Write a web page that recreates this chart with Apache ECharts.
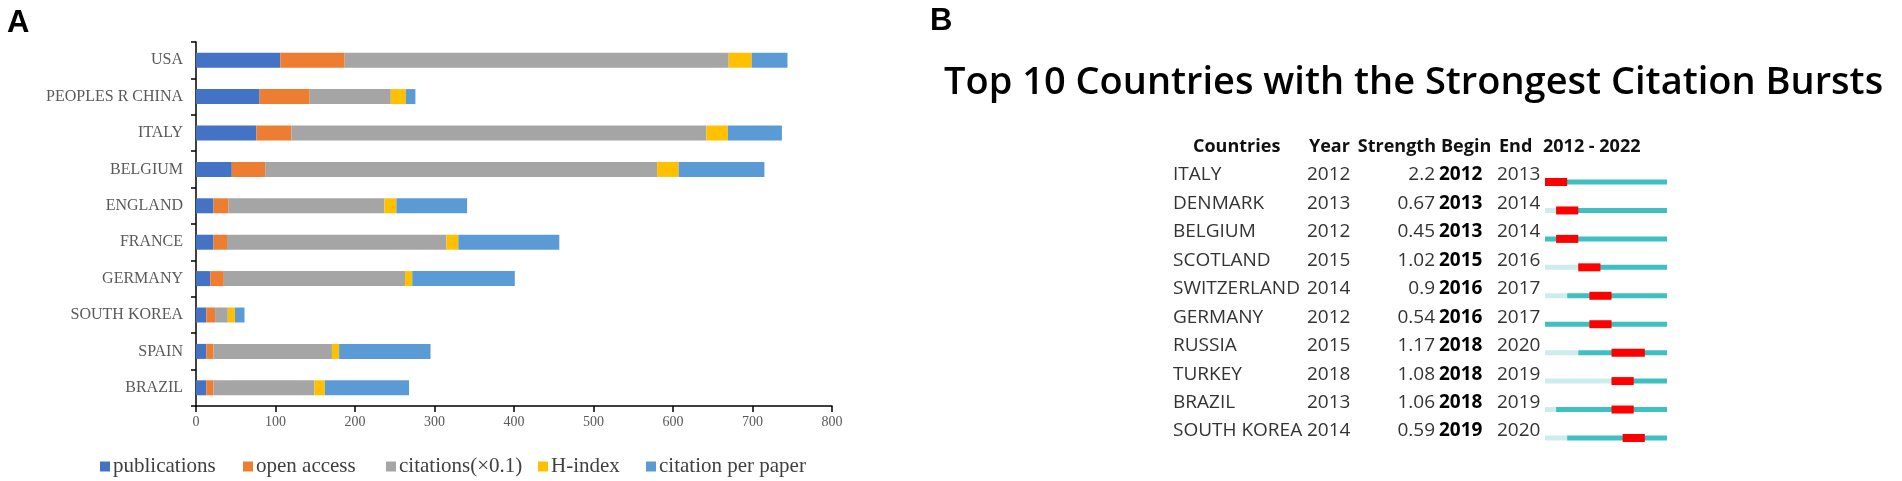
<!DOCTYPE html>
<html>
<head>
<meta charset="utf-8">
<script src="https://cdn.jsdelivr.net/npm/echarts@6/dist/echarts.min.js"></script>
<style>
  html, body { margin: 0; padding: 0; background: #fff; }
  #chart { width: 1902px; height: 481px; }
</style>
</head>
<body>
<div id="chart"></div>
<script>
// panel A: stacked bars
const countries = ['USA', 'PEOPLES R CHINA', 'ITALY', 'BELGIUM', 'ENGLAND', 'FRANCE', 'GERMANY', 'SOUTH KOREA', 'SPAIN', 'BRAZIL'];
const publications = [106, 80, 76, 45, 22, 22, 18, 13, 13, 13];
const openAccess = [81, 63, 44, 42, 19, 17, 17, 11, 9, 9];
const citations = [483, 102, 522, 493, 196, 276, 228, 16, 149, 127];
const hIndex = [29, 19, 27, 27, 15, 15, 9, 9, 9, 13];
const citationPerPaper = [45, 12, 68, 108, 89, 127, 129, 12, 115, 106];
const seriesNames = ['publications', 'open access', 'citations(×0.1)', 'H-index', 'citation per paper'];
const xTicks = [0, 100, 200, 300, 400, 500, 600, 700, 800];

// panel B: citation bursts
const burstCountries = ['ITALY', 'DENMARK', 'BELGIUM', 'SCOTLAND', 'SWITZERLAND', 'GERMANY', 'RUSSIA', 'TURKEY', 'BRAZIL', 'SOUTH KOREA'];
const burstYear = [2012, 2013, 2012, 2015, 2014, 2012, 2015, 2018, 2013, 2014];
const burstStrength = ['2.2', '0.67', '0.45', '1.02', '0.9', '0.54', '1.17', '1.08', '1.06', '0.59'];
const burstBegin = [2012, 2013, 2013, 2015, 2016, 2016, 2018, 2018, 2018, 2019];
const burstEnd = [2013, 2014, 2014, 2016, 2017, 2017, 2020, 2019, 2019, 2020];
const spanStart = 2012;
const spanEnd = 2022;

const serif = '"Liberation Serif", "Times New Roman", serif';
const sans = '"Open Sans", "Noto Sans", sans-serif';
const colors = ['#4472C4', '#ED7D31', '#A5A5A5', '#FFC000', '#5B9BD5'];

const myChart = echarts.init(document.getElementById('chart'));

function barSeries(name, data) {
  return {
    name: name,
    type: 'bar',
    stack: 'total',
    barWidth: 15,
    data: data,
    xAxisIndex: 0,
    yAxisIndex: 0
  };
}

function renderBurst(params, api) {
  const i = params.dataIndex;
  const start = api.coord([spanStart, i]);
  const yc = start[1];
  const x0 = start[0];
  const xYear = api.coord([burstYear[i], i])[0];
  const xB = api.coord([burstBegin[i], i])[0];
  const xE = api.coord([burstEnd[i] + 1, i])[0];
  const xEnd = api.coord([spanEnd + 1, i])[0];
  const yb = yc + 7;
  const font = '19px ' + sans;
  const fontB = 'bold 19px ' + sans;
  const children = [];
  if (xYear > x0) {
    children.push({type: 'rect', shape: {x: x0, y: yb - 2.5, width: xYear - x0, height: 5}, style: {fill: '#CDEDED'}});
  }
  children.push({type: 'rect', shape: {x: xYear, y: yb - 2.5, width: xEnd - xYear, height: 5}, style: {fill: '#3FBFBF'}});
  children.push({type: 'rect', shape: {x: xB, y: yb - 4, width: xE - xB, height: 8}, style: {fill: '#FF0000'}});
  const txt = (text, x, align, f, fill) => ({
    type: 'text',
    style: {text: text, x: x, y: yc, align: align, verticalAlign: 'middle', font: f, fill: fill}
  });
  children.push(txt(burstCountries[i], x0 - 372, 'left', font, '#333'));
  children.push(txt(String(burstYear[i]), x0 - 238, 'left', font, '#333'));
  children.push(txt(burstStrength[i], x0 - 110, 'right', font, '#333'));
  children.push(txt(String(burstBegin[i]), x0 - 106, 'left', fontB, '#000'));
  children.push(txt(String(burstEnd[i]), x0 - 48, 'left', font, '#333'));
  return {type: 'group', children: children};
}

const headerFont = 'bold 18px ' + sans;
const headers = [
  {text: 'Countries', x: 1193, align: 'left'},
  {text: 'Year', x: 1309, align: 'left'},
  {text: 'Strength', x: 1436, align: 'right'},
  {text: 'Begin', x: 1441, align: 'left'},
  {text: 'End', x: 1499, align: 'left'},
  {text: spanStart + ' - ' + spanEnd, x: 1543, align: 'left'}
];

// one legend per item so each sits where the original puts it
const legendLeft = [95, 238, 381, 533, 641];
const legends = seriesNames.map((name, k) => ({
  left: legendLeft[k],
  top: 451,
  itemWidth: 10,
  itemHeight: 10,
  icon: 'rect',
  textStyle: {fontFamily: serif, fontSize: 21, color: '#404040', padding: [0, 0, 0, -2]},
  data: [name]
}));

const option = {
  backgroundColor: '#fff',
  animation: false,
  color: colors,
  legend: legends,
  grid: [
    {left: 196, right: 1070, top: 42, bottom: 75},
    {left: 1545, right: 235, top: 160.8, height: 284.4}
  ],
  xAxis: [
    {
      type: 'value',
      gridIndex: 0,
      min: xTicks[0],
      max: xTicks[xTicks.length - 1],
      interval: 100,
      splitLine: {show: false},
      axisLine: {show: true, lineStyle: {color: '#000', width: 1.5}},
      axisTick: {show: true, length: 6, lineStyle: {color: '#000', width: 1.5}},
      axisLabel: {fontFamily: serif, fontSize: 14, color: '#595959', margin: 9}
    },
    {type: 'value', gridIndex: 1, min: spanStart, max: spanEnd + 1, show: false}
  ],
  yAxis: [
    {
      type: 'category',
      gridIndex: 0,
      inverse: true,
      data: countries,
      axisLine: {show: true, lineStyle: {color: '#000', width: 1.5}},
      axisTick: {show: true, length: 5, lineStyle: {color: '#000', width: 1.5}},
      axisLabel: {fontFamily: serif, fontSize: 16, color: '#595959', margin: 13}
    },
    {type: 'category', gridIndex: 1, inverse: true, data: burstCountries, show: false}
  ],
  series: [
    barSeries(seriesNames[0], publications),
    barSeries(seriesNames[1], openAccess),
    barSeries(seriesNames[2], citations),
    barSeries(seriesNames[3], hIndex),
    barSeries(seriesNames[4], citationPerPaper),
    {
      type: 'custom',
      xAxisIndex: 1,
      yAxisIndex: 1,
      clip: false,
      renderItem: renderBurst,
      encode: {x: 0, y: 1},
      data: burstCountries.map((c, i) => [burstBegin[i], i])
    }
  ],
  graphic: [
    {type: 'text', left: 7, top: 8, style: {text: 'A', font: 'bold 31px "Liberation Sans", Arial, sans-serif', fill: '#000'}},
    {type: 'text', left: 930, top: 6, style: {text: 'B', font: 'bold 31px "Liberation Sans", Arial, sans-serif', fill: '#000'}},
    {type: 'text', x: 944, y: 83, style: {text: 'Top 10 Countries with the Strongest Citation Bursts', font: '600 38px ' + sans, fill: '#000', verticalAlign: 'middle'}}
  ].concat(headers.map(h => ({
    type: 'text', x: h.x, y: 147,
    style: {text: h.text, font: headerFont, fill: '#111', align: h.align, verticalAlign: 'middle'}
  })))
};

myChart.setOption(option);
</script>
</body>
</html>
